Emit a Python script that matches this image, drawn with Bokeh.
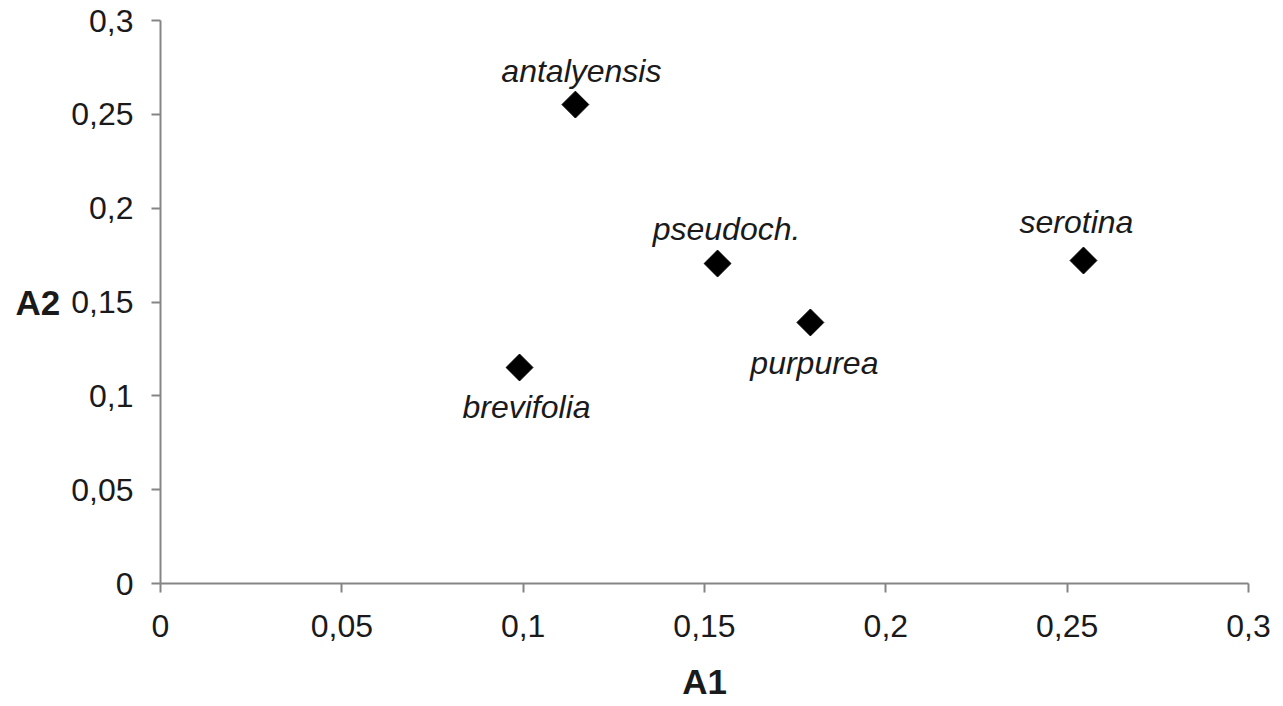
import math
from bokeh.plotting import figure
from bokeh.models import ColumnDataSource, Label, FixedTicker, CustomJSTickFormatter, Range1d
from bokeh.core.properties import value
from bokeh.embed import file_html
from bokeh.resources import INLINE

species = ["antalyensis", "pseudoch.", "serotina", "purpurea", "brevifolia"]
a1 = [0.1144, 0.1536, 0.2545, 0.1792, 0.0990]
a2 = [0.2552, 0.1705, 0.1721, 0.1391, 0.1151]
tick_values = [0, 0.05, 0.1, 0.15, 0.2, 0.25, 0.3]

# label offsets in screen pixels (style); negative = up
label_dx = [6, 9, -7, 4, 7]
label_dy = [-34, -35, -39, 41, 40]

FONT = "Liberation Sans"
AXIS_COL = "#858585"
TXT = "#1a1a1a"

p = figure(width=1275, height=703, output_backend="svg", toolbar_location=None,
           x_range=Range1d(0, 0.3), y_range=Range1d(0, 0.3),
           min_border_left=160, min_border_right=27, min_border_top=20, min_border_bottom=115)
p.outline_line_color = None
p.xgrid.visible = False
p.ygrid.visible = False
p.background_fill_color = "white"
p.border_fill_color = "white"

fmt = CustomJSTickFormatter(code="return (Math.round(tick*100)/100).toString().replace('.', ',');")
for ax in (p.xaxis[0], p.yaxis[0]):
    ax.ticker = FixedTicker(ticks=tick_values)
    ax.formatter = fmt
    ax.axis_line_color = AXIS_COL
    ax.axis_line_width = 2
    ax.major_tick_line_color = AXIS_COL
    ax.major_tick_line_width = 2
    ax.major_tick_out = 9
    ax.major_tick_in = 0
    ax.minor_tick_line_color = None
    ax.major_label_text_font = FONT
    ax.major_label_text_font_size = "32px"
    ax.major_label_text_color = TXT
    ax.axis_label_text_font = FONT
    ax.axis_label_text_font_size = "35px"
    ax.axis_label_text_font_style = "bold"
    ax.axis_label_text_color = TXT

p.xaxis[0].major_label_standoff = 22
p.yaxis[0].major_label_standoff = 18
p.xaxis[0].axis_label = "A1"
p.xaxis[0].axis_label_standoff = 22

yax = p.yaxis[0]
if "axis_label_orientation" in yax.properties():
    yax.axis_label = "A2"
    yax.axis_label_orientation = "horizontal"
    yax.axis_label_standoff = 8
else:
    p.add_layout(Label(x=38, y=300, x_units="screen", y_units="screen", text="A2",
                       text_font=FONT, text_font_size="35px", text_font_style="bold",
                       text_align="center", text_baseline="middle", text_color=TXT))

src = ColumnDataSource(dict(x=a1, y=a2, name=species, dx=label_dx, dy=label_dy))
p.scatter("x", "y", source=src, marker="square", size=19, angle=math.pi / 4,
          fill_color="black", line_color="black")
p.text("x", "y", text="name", source=src, x_offset="dx", y_offset="dy",
       text_font=value(FONT), text_font_size="32px", text_font_style="italic",
       text_align="center", text_baseline="middle", text_color=TXT)

open("out.html", "w").write(file_html(p, INLINE))
